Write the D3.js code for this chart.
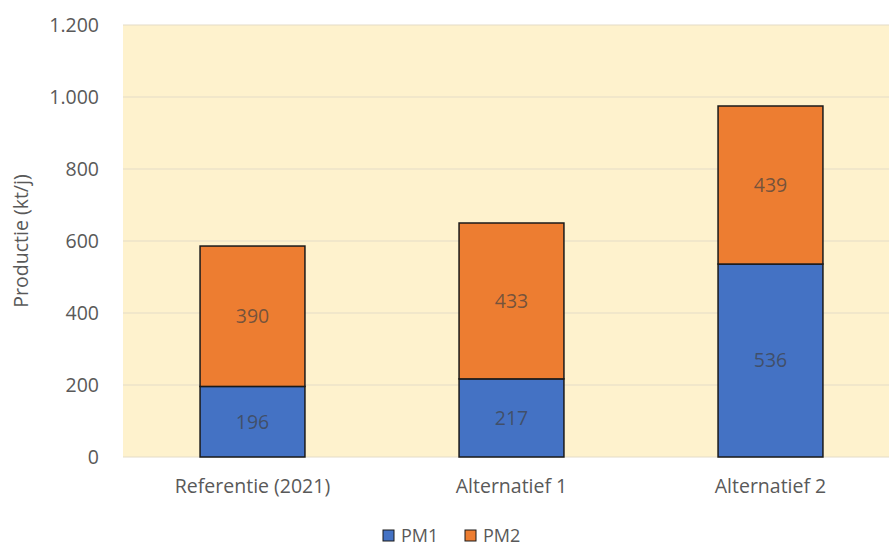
<!DOCTYPE html>
<html><head><meta charset="utf-8">
<script src="https://cdn.jsdelivr.net/npm/d3@7"></script>
<style>body{margin:0;background:#fff}svg{display:block}text{font-family:"Open Sans",sans-serif}</style>
</head><body><svg id="c" width="889" height="549"></svg>
<script>
const categories = ["Referentie (2021)", "Alternatief 1", "Alternatief 2"];
const pm1 = [196, 217, 536];
const pm2 = [390, 433, 439];
const seriesNames = ["PM1", "PM2"];
const seriesColors = ["#4472C4", "#ED7D31"];
const yTicks = [0, 200, 400, 600, 800, 1000, 1200];
const yTitle = "Productie (kt/j)";

const FS = 19.5;
const svg = d3.select("#c");
const W = 889, H = 549;
const m = {left: 123, top: 25, bottom: 92};
const plotRight = 900;
const x = d3.scaleBand().domain(categories).range([m.left, plotRight]).paddingInner(0.595).paddingOuter(0.2975);
const y = d3.scaleLinear().domain([0, 1200]).range([H - m.bottom, m.top]);

svg.append("rect").attr("x", m.left).attr("y", y(1200)).attr("width", W - m.left).attr("height", y(0) - y(1200)).attr("fill", "#FEF2CD");

// gridlines
svg.append("g").selectAll("line").data(yTicks).join("line")
  .attr("x1", m.left).attr("x2", W).attr("y1", d => y(d)).attr("y2", d => y(d))
  .attr("stroke", "#E3DCC8").attr("stroke-width", 1.2);

// y axis labels
const fmt = d => d3.format(",")(d).replace(/,/g, ".");
const yAxis = d3.axisLeft(y).tickValues(yTicks).tickFormat(fmt).tickSize(0).tickPadding(24);
const ga = svg.append("g").attr("transform", `translate(${m.left},0)`).call(yAxis);
ga.select(".domain").remove();
ga.selectAll("text").attr("font-size", FS).attr("fill", "#595959").style("font-family", '"Open Sans",sans-serif');

// x axis labels
const xAxis = d3.axisBottom(x).tickSize(0).tickPadding(22);
const gx = svg.append("g").attr("transform", `translate(0,${y(0)})`).call(xAxis);
gx.select(".domain").remove();
gx.selectAll("text").attr("font-size", FS).attr("fill", "#595959").style("font-family", '"Open Sans",sans-serif');

// stacked bars
const rows = categories.map((c, i) => ({cat: c, PM1: pm1[i], PM2: pm2[i]}));
const stack = d3.stack().keys(seriesNames)(rows);
const col = d3.scaleOrdinal().domain(seriesNames).range(seriesColors);
stack.forEach(s => {
  const g = svg.append("g");
  g.selectAll("rect").data(s).join("rect")
    .attr("x", d => x(d.data.cat)).attr("width", x.bandwidth())
    .attr("y", d => y(d[1])).attr("height", d => y(d[0]) - y(d[1]))
    .attr("fill", col(s.key)).attr("stroke", "#1a1a1a").attr("stroke-width", 1.5);
  g.selectAll("text").data(s).join("text")
    .attr("x", d => x(d.data.cat) + x.bandwidth() / 2)
    .attr("y", d => (y(d[0]) + y(d[1])) / 2).attr("dy", "0.35em")
    .attr("text-anchor", "middle").attr("font-size", FS)
    .attr("fill", "#404040").attr("fill-opacity", 0.7)
    .text(d => d[1] - d[0]);
});

// y title
svg.append("text").attr("transform", `translate(21,${(y(0)+y(1200))/2}) rotate(-90)`)
  .attr("text-anchor", "middle").attr("dy", "0.35em").attr("font-size", FS).attr("fill", "#595959").text(yTitle);

// legend
const lg = svg.append("g");
const legendX = [383, 465];
seriesNames.forEach((n, i) => {
  lg.append("rect").attr("x", legendX[i]).attr("y", 530).attr("width", 11).attr("height", 11)
    .attr("fill", seriesColors[i]).attr("stroke", "#1a1a1a").attr("stroke-width", 1);
  lg.append("text").attr("x", legendX[i] + 18).attr("y", 535.5).attr("dy", "0.35em")
    .attr("font-size", 18).attr("fill", "#595959").text(n);
});
</script></body></html>
